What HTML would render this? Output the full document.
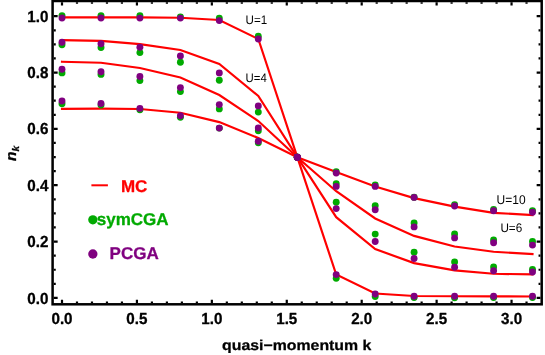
<!DOCTYPE html>
<html><head><meta charset="utf-8"><title>n_k vs quasi-momentum</title>
<style>html,body{margin:0;padding:0;background:#fff;}body{width:545px;height:355px;overflow:hidden;font-family:"Liberation Sans",sans-serif;}svg{display:block;}</style>
</head><body>
<svg width="545" height="355" viewBox="0 0 545 355">
<rect width="545" height="355" fill="#fff"/>
<g fill="none" stroke="#f00" stroke-width="2.15" stroke-linejoin="miter" stroke-linecap="square">
<polyline points="62.0,17.4 101.0,17.4 139.9,17.4 180.4,17.8 219.3,20.0 258.3,39.0 297.3,157.2 336.2,274.5 375.2,293.5 414.1,296.0 454.6,296.3 493.6,296.4 532.5,296.5"/>
<polyline points="62.0,40.1 101.0,40.9 139.9,44.1 180.4,50.0 219.3,64.0 258.3,96.0 297.3,157.2 336.2,217.2 375.2,249.1 414.1,263.1 454.6,270.4 493.6,273.8 532.5,274.4"/>
<polyline points="62.0,61.7 101.0,62.8 139.9,68.0 180.4,77.5 219.3,95.0 258.3,121.0 297.3,157.2 336.2,191.2 375.2,218.5 414.1,235.9 454.6,246.5 493.6,251.8 532.5,254.0"/>
<polyline points="62.0,108.9 101.0,108.6 139.9,109.0 180.4,112.8 219.3,122.1 258.3,138.0 297.3,157.2 336.2,172.1 375.2,186.6 414.1,198.1 454.6,206.6 493.6,212.9 532.5,215.0"/>
</g>
<g fill="#00aa00">
<circle cx="62.0" cy="15.6" r="3.45"/>
<circle cx="101.0" cy="15.6" r="3.45"/>
<circle cx="139.9" cy="15.6" r="3.45"/>
<circle cx="180.4" cy="16.9" r="3.45"/>
<circle cx="219.3" cy="18.1" r="3.45"/>
<circle cx="258.3" cy="36.2" r="3.45"/>
<circle cx="297.3" cy="157.2" r="3.45"/>
<circle cx="336.2" cy="278.2" r="3.45"/>
<circle cx="375.2" cy="296.6" r="3.45"/>
<circle cx="414.1" cy="297.6" r="3.45"/>
<circle cx="454.6" cy="297.7" r="3.45"/>
<circle cx="493.6" cy="297.5" r="3.45"/>
<circle cx="532.5" cy="297.5" r="3.45"/>
<circle cx="62.0" cy="44.8" r="3.45"/>
<circle cx="101.0" cy="47.5" r="3.45"/>
<circle cx="139.9" cy="52.6" r="3.45"/>
<circle cx="180.4" cy="62.2" r="3.45"/>
<circle cx="219.3" cy="80.2" r="3.45"/>
<circle cx="258.3" cy="112.1" r="3.45"/>
<circle cx="297.3" cy="157.2" r="3.45"/>
<circle cx="336.2" cy="202.3" r="3.45"/>
<circle cx="375.2" cy="234.1" r="3.45"/>
<circle cx="414.1" cy="252.2" r="3.45"/>
<circle cx="454.6" cy="262.0" r="3.45"/>
<circle cx="493.6" cy="267.0" r="3.45"/>
<circle cx="532.5" cy="269.4" r="3.45"/>
<circle cx="62.0" cy="72.9" r="3.45"/>
<circle cx="101.0" cy="74.4" r="3.45"/>
<circle cx="139.9" cy="80.6" r="3.45"/>
<circle cx="180.4" cy="91.6" r="3.45"/>
<circle cx="219.3" cy="108.9" r="3.45"/>
<circle cx="258.3" cy="130.8" r="3.45"/>
<circle cx="297.3" cy="157.2" r="3.45"/>
<circle cx="336.2" cy="183.7" r="3.45"/>
<circle cx="375.2" cy="205.7" r="3.45"/>
<circle cx="414.1" cy="223.0" r="3.45"/>
<circle cx="454.6" cy="234.0" r="3.45"/>
<circle cx="493.6" cy="240.0" r="3.45"/>
<circle cx="532.5" cy="241.4" r="3.45"/>
<circle cx="62.0" cy="103.7" r="3.45"/>
<circle cx="101.0" cy="105.1" r="3.45"/>
<circle cx="139.9" cy="109.8" r="3.45"/>
<circle cx="180.4" cy="117.2" r="3.45"/>
<circle cx="219.3" cy="128.1" r="3.45"/>
<circle cx="258.3" cy="142.8" r="3.45"/>
<circle cx="297.3" cy="157.2" r="3.45"/>
<circle cx="336.2" cy="171.6" r="3.45"/>
<circle cx="375.2" cy="185.0" r="3.45"/>
<circle cx="414.1" cy="197.2" r="3.45"/>
<circle cx="454.6" cy="204.6" r="3.45"/>
<circle cx="493.6" cy="209.4" r="3.45"/>
<circle cx="532.5" cy="210.6" r="3.45"/>
</g>
<g fill="#800080">
<circle cx="62.0" cy="18.0" r="3.45"/>
<circle cx="101.0" cy="18.0" r="3.45"/>
<circle cx="139.9" cy="18.1" r="3.45"/>
<circle cx="180.4" cy="18.1" r="3.45"/>
<circle cx="219.3" cy="20.6" r="3.45"/>
<circle cx="258.3" cy="39.0" r="3.45"/>
<circle cx="297.3" cy="157.2" r="3.45"/>
<circle cx="336.2" cy="274.6" r="3.45"/>
<circle cx="375.2" cy="294.0" r="3.45"/>
<circle cx="414.1" cy="296.2" r="3.45"/>
<circle cx="454.6" cy="296.3" r="3.45"/>
<circle cx="493.6" cy="296.3" r="3.45"/>
<circle cx="532.5" cy="296.3" r="3.45"/>
<circle cx="62.0" cy="42.3" r="3.45"/>
<circle cx="101.0" cy="43.8" r="3.45"/>
<circle cx="139.9" cy="47.2" r="3.45"/>
<circle cx="180.4" cy="55.9" r="3.45"/>
<circle cx="219.3" cy="72.9" r="3.45"/>
<circle cx="258.3" cy="105.9" r="3.45"/>
<circle cx="297.3" cy="157.2" r="3.45"/>
<circle cx="336.2" cy="208.6" r="3.45"/>
<circle cx="375.2" cy="241.5" r="3.45"/>
<circle cx="414.1" cy="258.5" r="3.45"/>
<circle cx="454.6" cy="267.2" r="3.45"/>
<circle cx="493.6" cy="270.7" r="3.45"/>
<circle cx="532.5" cy="272.0" r="3.45"/>
<circle cx="62.0" cy="69.2" r="3.45"/>
<circle cx="101.0" cy="71.7" r="3.45"/>
<circle cx="139.9" cy="76.5" r="3.45"/>
<circle cx="180.4" cy="87.6" r="3.45"/>
<circle cx="219.3" cy="104.6" r="3.45"/>
<circle cx="258.3" cy="128.0" r="3.45"/>
<circle cx="297.3" cy="157.2" r="3.45"/>
<circle cx="336.2" cy="186.4" r="3.45"/>
<circle cx="375.2" cy="209.8" r="3.45"/>
<circle cx="414.1" cy="226.9" r="3.45"/>
<circle cx="454.6" cy="237.9" r="3.45"/>
<circle cx="493.6" cy="242.8" r="3.45"/>
<circle cx="532.5" cy="245.1" r="3.45"/>
<circle cx="62.0" cy="101.0" r="3.45"/>
<circle cx="101.0" cy="103.5" r="3.45"/>
<circle cx="139.9" cy="108.4" r="3.45"/>
<circle cx="180.4" cy="115.8" r="3.45"/>
<circle cx="219.3" cy="128.1" r="3.45"/>
<circle cx="258.3" cy="141.2" r="3.45"/>
<circle cx="297.3" cy="157.2" r="3.45"/>
<circle cx="336.2" cy="173.0" r="3.45"/>
<circle cx="375.2" cy="186.4" r="3.45"/>
<circle cx="414.1" cy="197.4" r="3.45"/>
<circle cx="454.6" cy="206.0" r="3.45"/>
<circle cx="493.6" cy="210.8" r="3.45"/>
<circle cx="532.5" cy="212.3" r="3.45"/>
</g>
<path d="M62.00 303.05v-3.3M62.00 2.25v3.3M76.98 303.05v-1.55M76.98 2.25v1.55M91.97 303.05v-1.55M91.97 2.25v1.55M106.96 303.05v-1.55M106.96 2.25v1.55M121.94 303.05v-1.55M121.94 2.25v1.55M136.93 303.05v-3.3M136.93 2.25v3.3M151.91 303.05v-1.55M151.91 2.25v1.55M166.90 303.05v-1.55M166.90 2.25v1.55M181.88 303.05v-1.55M181.88 2.25v1.55M196.87 303.05v-1.55M196.87 2.25v1.55M211.85 303.05v-3.3M211.85 2.25v3.3M226.84 303.05v-1.55M226.84 2.25v1.55M241.82 303.05v-1.55M241.82 2.25v1.55M256.81 303.05v-1.55M256.81 2.25v1.55M271.79 303.05v-1.55M271.79 2.25v1.55M286.77 303.05v-3.3M286.77 2.25v3.3M301.76 303.05v-1.55M301.76 2.25v1.55M316.75 303.05v-1.55M316.75 2.25v1.55M331.73 303.05v-1.55M331.73 2.25v1.55M346.72 303.05v-1.55M346.72 2.25v1.55M361.70 303.05v-3.3M361.70 2.25v3.3M376.69 303.05v-1.55M376.69 2.25v1.55M391.67 303.05v-1.55M391.67 2.25v1.55M406.66 303.05v-1.55M406.66 2.25v1.55M421.64 303.05v-1.55M421.64 2.25v1.55M436.62 303.05v-3.3M436.62 2.25v3.3M451.61 303.05v-1.55M451.61 2.25v1.55M466.60 303.05v-1.55M466.60 2.25v1.55M481.58 303.05v-1.55M481.58 2.25v1.55M496.57 303.05v-1.55M496.57 2.25v1.55M511.55 303.05v-3.3M511.55 2.25v3.3M526.53 303.05v-1.55M526.53 2.25v1.55M53.85 297.90h3.8M540.45 297.90h-3.8M53.85 283.81h1.9M540.45 283.81h-1.9M53.85 269.73h1.9M540.45 269.73h-1.9M53.85 255.64h1.9M540.45 255.64h-1.9M53.85 241.56h3.8M540.45 241.56h-3.8M53.85 227.47h1.9M540.45 227.47h-1.9M53.85 213.39h1.9M540.45 213.39h-1.9M53.85 199.30h1.9M540.45 199.30h-1.9M53.85 185.22h3.8M540.45 185.22h-3.8M53.85 171.13h1.9M540.45 171.13h-1.9M53.85 157.05h1.9M540.45 157.05h-1.9M53.85 142.96h1.9M540.45 142.96h-1.9M53.85 128.88h3.8M540.45 128.88h-3.8M53.85 114.79h1.9M540.45 114.79h-1.9M53.85 100.71h1.9M540.45 100.71h-1.9M53.85 86.62h1.9M540.45 86.62h-1.9M53.85 72.54h3.8M540.45 72.54h-3.8M53.85 58.45h1.9M540.45 58.45h-1.9M53.85 44.37h1.9M540.45 44.37h-1.9M53.85 30.28h1.9M540.45 30.28h-1.9M53.85 16.20h3.8M540.45 16.20h-3.8" stroke="#000" stroke-width="2.2" fill="none"/>
<rect x="52.6" y="1.0" width="489.1" height="303.3" fill="none" stroke="#000" stroke-width="2.5"/>
<g font-family="Liberation Sans, sans-serif" font-weight="bold" opacity="0.999" stroke-width="0.3" stroke-linejoin="round" text-rendering="geometricPrecision">
<text transform="translate(62.00 323.70) scale(1 1.05)" font-size="15.2" text-anchor="middle" fill="#000" stroke="#000">0.0</text>
<text transform="translate(136.93 323.70) scale(1 1.05)" font-size="15.2" text-anchor="middle" fill="#000" stroke="#000">0.5</text>
<text transform="translate(211.85 323.70) scale(1 1.05)" font-size="15.2" text-anchor="middle" fill="#000" stroke="#000">1.0</text>
<text transform="translate(286.77 323.70) scale(1 1.05)" font-size="15.2" text-anchor="middle" fill="#000" stroke="#000">1.5</text>
<text transform="translate(361.70 323.70) scale(1 1.05)" font-size="15.2" text-anchor="middle" fill="#000" stroke="#000">2.0</text>
<text transform="translate(436.62 323.70) scale(1 1.05)" font-size="15.2" text-anchor="middle" fill="#000" stroke="#000">2.5</text>
<text transform="translate(511.55 323.70) scale(1 1.05)" font-size="15.2" text-anchor="middle" fill="#000" stroke="#000">3.0</text>
<text transform="translate(48.40 303.50) scale(1 1.05)" font-size="15.2" text-anchor="end" fill="#000" stroke="#000">0.0</text>
<text transform="translate(48.40 247.16) scale(1 1.05)" font-size="15.2" text-anchor="end" fill="#000" stroke="#000">0.2</text>
<text transform="translate(48.40 190.82) scale(1 1.05)" font-size="15.2" text-anchor="end" fill="#000" stroke="#000">0.4</text>
<text transform="translate(48.40 134.48) scale(1 1.05)" font-size="15.2" text-anchor="end" fill="#000" stroke="#000">0.6</text>
<text transform="translate(48.40 78.14) scale(1 1.05)" font-size="15.2" text-anchor="end" fill="#000" stroke="#000">0.8</text>
<text transform="translate(48.40 21.80) scale(1 1.05)" font-size="15.2" text-anchor="end" fill="#000" stroke="#000">1.0</text>
<text transform="translate(296.70 349.60) scale(1 0.9)" font-size="15.85" text-anchor="middle" fill="#000" stroke="#000">quasi&#8722;momentum k</text>
<text transform="translate(15.90 160.90) rotate(-90) scale(1 0.95)" font-size="15.5" text-anchor="start" fill="#000" stroke="#000" font-style="italic">n<tspan font-size="10.2" dy="3.3">k</tspan></text>
<path d="M91.4 185.3H107.9" stroke="#f00" stroke-width="2"/>
<text transform="translate(120.90 191.50) scale(1 1.0)" font-size="17.0" text-anchor="start" fill="#f00" stroke="#f00">MC</text>
<circle cx="92.85" cy="219.8" r="4.65" fill="#00aa00"/>
<text transform="translate(96.80 225.30) scale(1 1.0)" font-size="17.0" text-anchor="start" fill="#00aa00" stroke="#00aa00">symCGA</text>
<circle cx="92.85" cy="254.0" r="4.65" fill="#800080"/>
<text transform="translate(109.60 258.70) scale(1 1.0)" font-size="17.0" text-anchor="start" fill="#800080" stroke="#800080">PCGA</text>
</g>
<g font-family="Liberation Sans, sans-serif" font-size="11.7" fill="#000" opacity="0.999" stroke-width="0" text-rendering="geometricPrecision">
<text transform="translate(245.60 23.60) scale(1 1.06)" font-size="11.6" text-anchor="start" fill="#000" stroke="#000">U=1</text>
<text transform="translate(245.60 82.30) scale(1 1.07)" font-size="11.4" text-anchor="start" fill="#000" stroke="#000">U=4</text>
<text transform="translate(496.60 203.60) scale(1 1.05)" font-size="12.0" text-anchor="start" fill="#000" stroke="#000">U=10</text>
<text transform="translate(500.40 231.60) scale(1 1.06)" font-size="11.7" text-anchor="start" fill="#000" stroke="#000">U=6</text>
</g>
</svg>
</body></html>
